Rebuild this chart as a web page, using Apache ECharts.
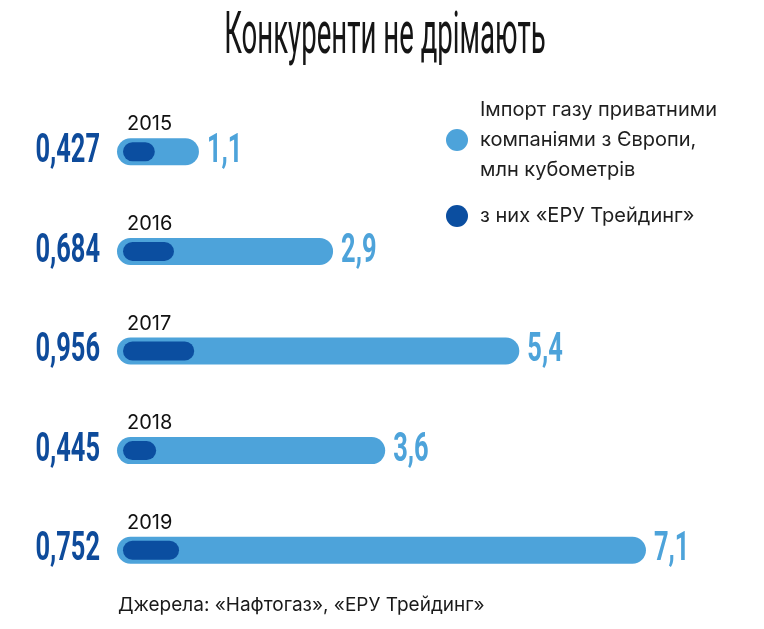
<!DOCTYPE html>
<html>
<head>
<meta charset="utf-8">
<script src="https://cdn.jsdelivr.net/npm/echarts@6/dist/echarts.min.js"></script>
<style>
  html, body { margin: 0; padding: 0; background: #fff; }
  #chart { width: 764px; height: 629px; }
</style>
</head>
<body>
<div id="chart"></div>
<script>
const years = ['2015', '2016', '2017', '2018', '2019']
const importVals = [1.1, 2.9, 5.4, 3.6, 7.1] // імпорт приватними компаніями
const eruVals = [0.427, 0.684, 0.956, 0.445, 0.752] // з них «ЕРУ Трейдинг»

const lightBlue = '#4DA3DA'
const darkBlue = '#0B4EA0'
const numColor = '#0E4B9B'

const importName = 'Імпорт газу приватними\nкомпаніями з Європи,\nмлн кубометрів'
const eruName = 'з них «ЕРУ Трейдинг»'

function fmt(v) {
  return String(v).replace('.', ',')
}

const myChart = echarts.init(document.getElementById('chart'))

const numFont = 'bold 41px Roboto'

const option = {
  backgroundColor: '#fff',
  animation: false,
  graphic: [
    {
      type: 'text',
      x: 385,
      y: 38,
      scaleX: 0.46,
      style: {
        text: 'Конкуренти не дрімають',
        font: '400 60px Roboto',
        fill: '#151515',
        align: 'center',
        verticalAlign: 'middle',
      },
    },
    {
      type: 'text',
      x: 118,
      y: 605,
      style: {
        text: 'Джерела: «Нафтогаз», «ЕРУ Трейдинг»',
        font: '19px Inter',
        fill: '#1a1a1a',
        align: 'left',
        verticalAlign: 'middle',
      },
    },
  ],
  legend: {
    orient: 'vertical',
    left: 441,
    top: 90,
    icon: 'circle',
    itemWidth: 22,
    itemHeight: 22,
    itemGap: 16,
    textStyle: {
      fontFamily: 'Inter',
      fontSize: 20,
      lineHeight: 30,
      color: '#1e1e1e',
      padding: [0, 0, 0, 7],
    },
    data: [importName, eruName],
  },
  grid: [
    { left: 117, width: 596, top: 102, bottom: 29 },
    { left: 123, width: 596, top: 102, bottom: 29 },
  ],
  xAxis: [
    { type: 'value', min: 0, max: 8, show: false, gridIndex: 0 },
    { type: 'value', min: 0, max: 8, show: false, gridIndex: 1 },
  ],
  yAxis: [
    { type: 'category', data: years, inverse: true, show: false, gridIndex: 0 },
    { type: 'category', data: years, inverse: true, show: false, gridIndex: 1 },
  ],
  series: [
    {
      name: importName,
      type: 'bar',
      xAxisIndex: 0,
      yAxisIndex: 0,
      data: importVals,
      barWidth: 27,
      itemStyle: { color: lightBlue, borderRadius: 13.5 },
      label: {
        show: true,
        position: [10, -14],
        align: 'left',
        verticalAlign: 'middle',
        formatter: (p) => p.name,
        fontFamily: 'Inter',
        fontSize: 20,
        color: '#111',
      },
      z: 2,
    },
    {
      name: eruName,
      type: 'bar',
      xAxisIndex: 1,
      yAxisIndex: 1,
      data: eruVals,
      barWidth: 19,
      itemStyle: { color: darkBlue, borderRadius: 9.5 },
      z: 3,
    },
    {
      // підписи значень: зліва «ЕРУ Трейдинг», справа загальний імпорт
      type: 'custom',
      xAxisIndex: 0,
      yAxisIndex: 0,
      data: importVals.map((v, i) => [v, i, eruVals[i]]),
      encode: { x: 0, y: 1 },
      silent: true,
      z: 5,
      renderItem: (params, api) => {
        const idx = api.value(1)
        const start = api.coord([0, idx])
        const end = api.coord([api.value(0), idx])
        return {
          type: 'group',
          children: [
            {
              type: 'text',
              x: start[0] - 17,
              y: start[1],
              scaleX: 0.62,
              style: {
                text: fmt(api.value(2)),
                font: numFont,
                fill: numColor,
                align: 'right',
                verticalAlign: 'middle',
              },
            },
            {
              type: 'text',
              x: end[0] + 8,
              y: start[1],
              scaleX: 0.62,
              style: {
                text: fmt(api.value(0)),
                font: numFont,
                fill: lightBlue,
                align: 'left',
                verticalAlign: 'middle',
              },
            },
          ],
        }
      },
    },
  ],
}

myChart.setOption(option, true)
</script>
</body>
</html>
